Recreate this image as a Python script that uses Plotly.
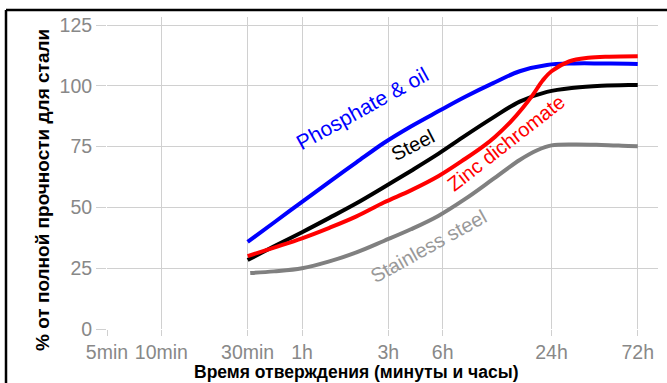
import math
import plotly.graph_objects as go

# ---- data ----
tick_minutes = [5, 10, 30, 60, 180, 360, 1440, 4320]
tick_labels = ["5min", "10min", "30min", "1h", "3h", "6h", "24h", "72h"]
y_ticks = [0, 25, 50, 75, 100, 125]

phosphate_t = [30, 42, 60, 85, 120, 170, 240, 340, 480, 680, 960, 1360, 1920, 2720, 3840, 4320]
phosphate_v = [35.8, 43.8, 52.3, 60.5, 68.5, 76.5, 83.3, 89.5, 95.5, 101, 106, 108.6, 109.2, 109.2, 109.1, 109]

steel_t = [30, 42, 60, 85, 120, 170, 240, 340, 480, 680, 960, 1360, 1920, 2720, 3840, 4320]
steel_v = [28.4, 34, 39.8, 45.7, 51.7, 58.3, 65, 72, 79.5, 86.8, 93.5, 97.5, 99.2, 100, 100.3, 100.3]

zinc_t = [30, 42, 60, 85, 120, 170, 240, 340, 480, 600, 700, 850, 1000, 1140, 1290, 1440, 1800, 2300, 3000, 4320]
zinc_v = [30, 33.5, 37.3, 41.6, 46.3, 52, 57, 62.8, 70, 75, 79, 85, 91, 96.5, 102.3, 106, 110, 111.5, 112, 112.2]

stainless_t = [31, 42, 60, 85, 120, 170, 240, 340, 480, 680, 960, 1200, 1440, 1920, 2720, 3840, 4320]
stainless_v = [23, 23.7, 25, 27.8, 31.5, 36.2, 41, 46.5, 53.5, 61.5, 69.5, 73.5, 75.5, 75.9, 75.7, 75.3, 75.2]

series = [
    ("Phosphate & oil", phosphate_t, phosphate_v, "#0000ff"),
    ("Steel", steel_t, steel_v, "#000000"),
    ("Zinc dichromate", zinc_t, zinc_v, "#ff0000"),
    ("Stainless steel", stainless_t, stainless_v, "#808080"),
]

# label anchors (minutes, percent), angle, colour, size
labels = [
    ("Phosphate & oil", 129, 90.5, -29, "#0000ff", 21),
    ("Steel", 246, 75.7, -27, "#000000", 20),
    ("Zinc dichromate", 806, 76.5, -38, "#ff0000", 20),
    ("Stainless steel", 302, 34.1, -29, "#999999", 20),
]

FONT = "Liberation Sans, Arial, sans-serif"

fig = go.Figure()
for name, t, v, c in series:
    fig.add_trace(go.Scatter(x=t, y=v, mode="lines", name=name,
                             line=dict(color=c, width=4, shape="spline", smoothing=1.0),
                             showlegend=False))

for text, xm, yv, ang, col, sz in labels:
    fig.add_annotation(x=math.log10(xm), y=yv, xref="x", yref="y", text=text,
                       textangle=ang, showarrow=False,
                       font=dict(family=FONT, size=sz, color=col),
                       xanchor="center", yanchor="middle")

# axis titles
fig.add_annotation(x=-0.118, y=0.4455, xref="paper", yref="paper",
                   text="<b>% от полной прочности для стали</b>", textangle=-90,
                   showarrow=False, font=dict(family=FONT, size=19, color="#000"),
                   xanchor="center", yanchor="middle")
fig.add_annotation(x=0.4528, y=-0.1378, xref="paper", yref="paper",
                   text="<b>Время отверждения (минуты и часы)</b>",
                   showarrow=False, font=dict(family=FONT, size=17.5, color="#000"),
                   xanchor="center", yanchor="middle")

# frame
fig.add_shape(type="line", xref="paper", yref="paper", x0=-0.1833, x1=-0.1833,
              y0=-0.2, y1=1.0224, line=dict(color="#000", width=2.5))
fig.add_shape(type="line", xref="paper", yref="paper", x0=-0.1833, x1=1.03,
              y0=1.0224, y1=1.0224, line=dict(color="#000", width=2.5))

grid = "#d0d0d0"
fig.update_xaxes(type="log", range=[math.log10(5), math.log10(5592)],
                 tickvals=tick_minutes, ticktext=tick_labels,
                 showgrid=True, gridcolor=grid, gridwidth=1,
                 ticks="outside", ticklen=6, tickcolor=grid,
                 tickfont=dict(family=FONT, size=19.5, color="#888888"),
                 showline=False, zeroline=False)
fig.update_yaxes(range=[0, 128.3], tickvals=y_ticks,
                 showgrid=True, gridcolor=grid, gridwidth=1,
                 ticks="outside", ticklen=10, tickcolor=grid,
                 tickfont=dict(family=FONT, size=19.5, color="#888888"),
                 showline=False, zeroline=False)

fig.update_layout(width=667, height=383,
                  margin=dict(l=107, r=9, t=17, b=54),
                  plot_bgcolor="white", paper_bgcolor="white",
                  font=dict(family=FONT))

fig.write_html("out.html", config={"displayModeBar": False},
               post_script="document.body.style.margin='0';document.body.style.overflow='hidden';")
